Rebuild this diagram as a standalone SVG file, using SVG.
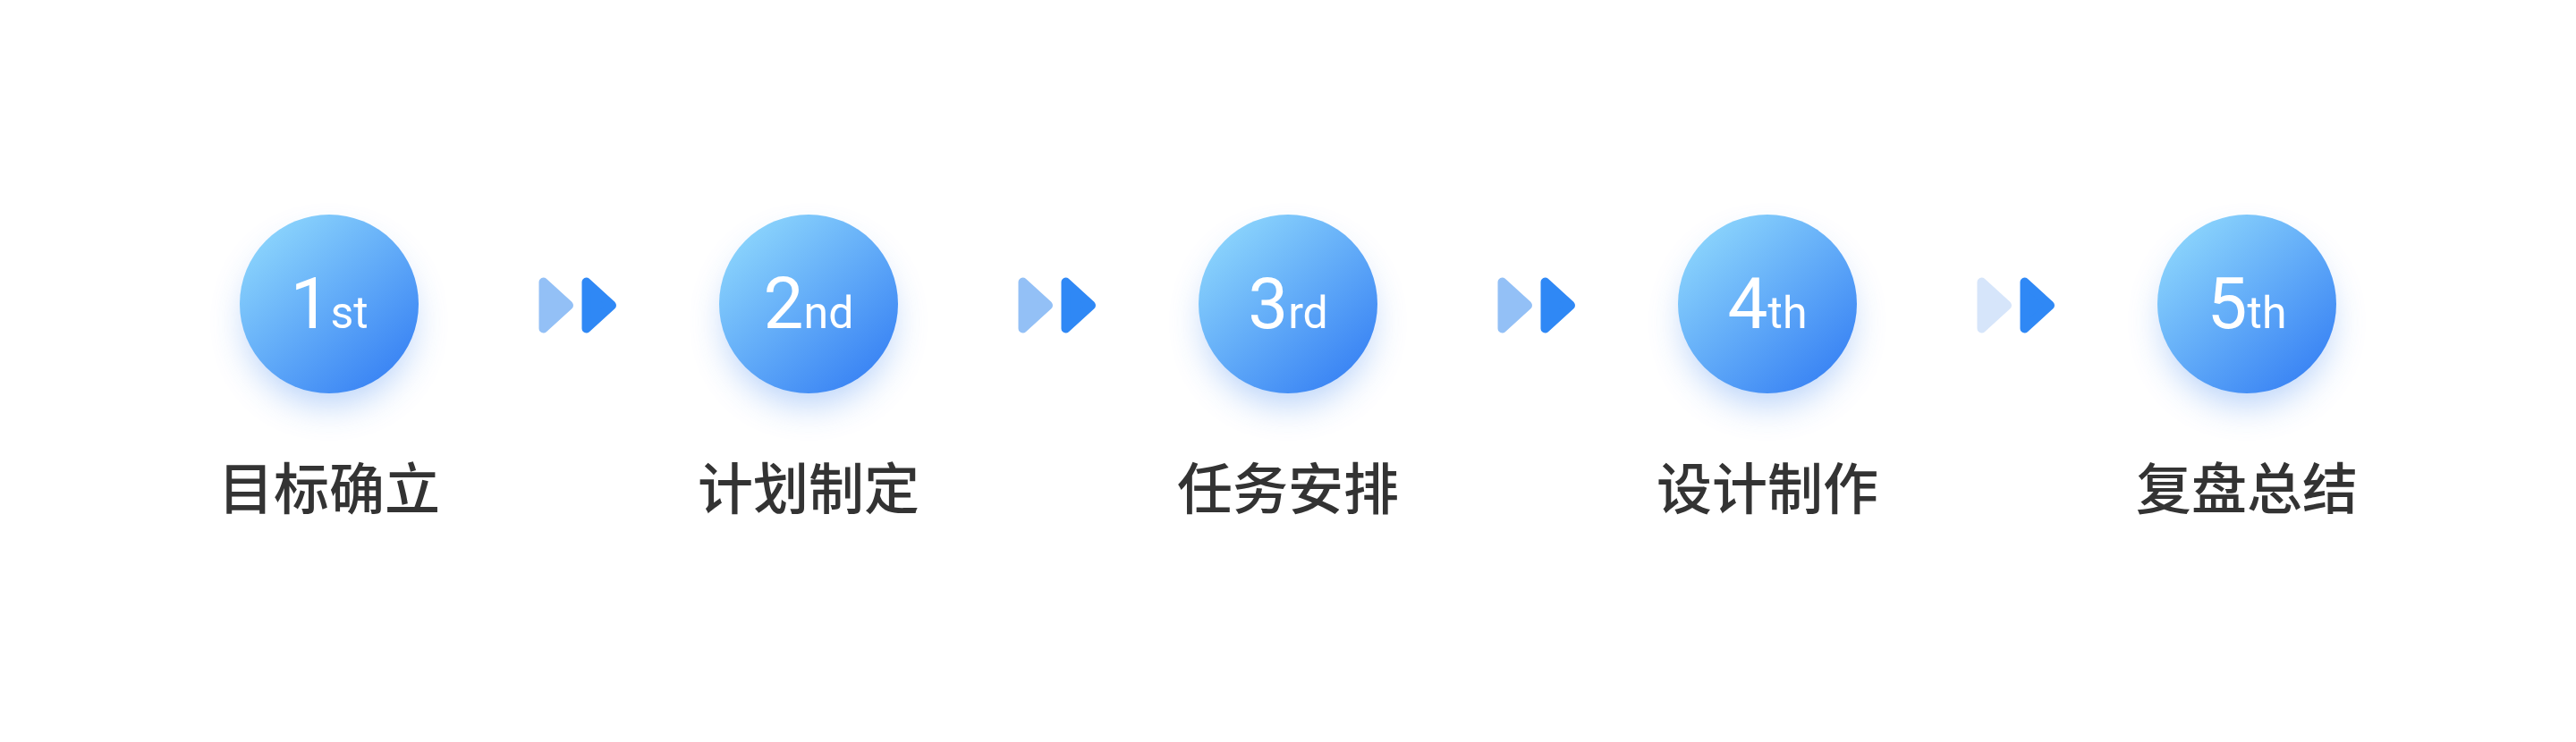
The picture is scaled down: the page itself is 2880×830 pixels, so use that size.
<svg xmlns="http://www.w3.org/2000/svg" xmlns:xlink="http://www.w3.org/1999/xlink" width="2880" height="830" viewBox="0 0 2880 830">
<defs>
<linearGradient id="ballGrad" x1="0.15" y1="0.1" x2="0.85" y2="0.9">
<stop offset="0" stop-color="#8ad3fc"/>
<stop offset="1" stop-color="#3a84f4"/>
</linearGradient>
<filter id="glow" x="-60%" y="-60%" width="220%" height="220%">
<feGaussianBlur stdDeviation="20"/>
</filter>
<polygon id="tri" points="607.5,315.5 607.5,367.5 636,341.5"/>
</defs>
<style>
.shadow{fill:#5b98f2;opacity:0.45;filter:url(#glow)}
.ball{fill:url(#ballGrad)}
.num{font-family:Roboto,"Liberation Sans",Arial,sans-serif;font-weight:400;fill:#ffffff;text-anchor:middle}
.big{font-size:80px}
.small{font-size:50px}
.label{font-family:"Noto Sans CJK SC","Noto Sans",sans-serif;font-size:62px;font-weight:500;fill:#333333;text-anchor:middle}
.light{fill:#93c0f6;stroke:#93c0f6;stroke-width:10;stroke-linejoin:round}
.pale{fill:#d6e5fa;stroke:#d6e5fa;stroke-width:10;stroke-linejoin:round}
.dark{fill:#2f88f5;stroke:#2f88f5;stroke-width:10;stroke-linejoin:round}
</style>
<rect width="2880" height="830" fill="#ffffff"/>
<g id="connectors">
<use xlink:href="#tri" class="light"/>
<use xlink:href="#tri" class="dark" transform="translate(48,0)"/>
<use xlink:href="#tri" class="light" transform="translate(536,0)"/>
<use xlink:href="#tri" class="dark" transform="translate(584,0)"/>
<use xlink:href="#tri" class="light" transform="translate(1072,0)"/>
<use xlink:href="#tri" class="dark" transform="translate(1120,0)"/>
<use xlink:href="#tri" class="pale" transform="translate(1608,0)"/>
<use xlink:href="#tri" class="dark" transform="translate(1656,0)"/>
</g>
<g id="node1">
<circle class="shadow" cx="368" cy="360" r="92"/>
<circle class="ball" cx="368" cy="340" r="100"/>
<text class="num" x="368" y="367"><tspan class="big">1</tspan><tspan class="small">st</tspan></text>
<text class="label" x="368" y="570">目标确立</text>
</g>
<g id="node2">
<circle class="shadow" cx="904" cy="360" r="92"/>
<circle class="ball" cx="904" cy="340" r="100"/>
<text class="num" x="904" y="367"><tspan class="big">2</tspan><tspan class="small">nd</tspan></text>
<text class="label" x="904" y="570">计划制定</text>
</g>
<g id="node3">
<circle class="shadow" cx="1440" cy="360" r="92"/>
<circle class="ball" cx="1440" cy="340" r="100"/>
<text class="num" x="1440" y="367"><tspan class="big">3</tspan><tspan class="small">rd</tspan></text>
<text class="label" x="1440" y="570">任务安排</text>
</g>
<g id="node4">
<circle class="shadow" cx="1976" cy="360" r="92"/>
<circle class="ball" cx="1976" cy="340" r="100"/>
<text class="num" x="1976" y="367"><tspan class="big">4</tspan><tspan class="small">th</tspan></text>
<text class="label" x="1976" y="570">设计制作</text>
</g>
<g id="node5">
<circle class="shadow" cx="2512" cy="360" r="92"/>
<circle class="ball" cx="2512" cy="340" r="100"/>
<text class="num" x="2512" y="367"><tspan class="big">5</tspan><tspan class="small">th</tspan></text>
<text class="label" x="2512" y="570">复盘总结</text>
</g>
</svg>
